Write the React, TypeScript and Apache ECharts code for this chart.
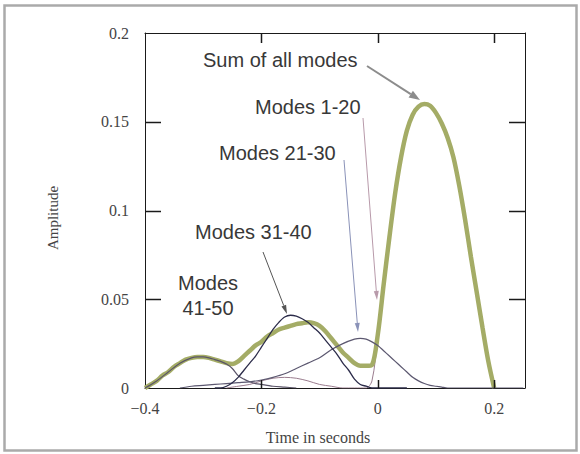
import { useEffect, useRef } from "react";
import * as echarts from "echarts";

// Time axis (seconds) and amplitudes of each mode group
const sumTimes = [
  -0.4, -0.39, -0.38, -0.37, -0.36, -0.35, -0.34, -0.33, -0.32, -0.31, -0.3, -0.29, -0.28, -0.27, -0.26,
  -0.25, -0.24, -0.23, -0.22, -0.21, -0.2, -0.19, -0.18, -0.17, -0.16, -0.15, -0.14, -0.13, -0.12, -0.11,
  -0.1, -0.09, -0.08, -0.07, -0.06, -0.05, -0.04, -0.03, -0.02, -0.01, 0.0, 0.01, 0.02, 0.03, 0.04, 0.05,
  0.06, 0.07, 0.08, 0.09, 0.1, 0.11, 0.12, 0.13, 0.14, 0.15, 0.16, 0.17, 0.18, 0.19, 0.2,
];
const sumAmps = [
  0.0, 0.002, 0.004, 0.007, 0.009, 0.012, 0.014, 0.016, 0.017, 0.0175, 0.0175, 0.017, 0.016, 0.015, 0.014,
  0.0135, 0.015, 0.018, 0.021, 0.024, 0.026, 0.029, 0.031, 0.033, 0.034, 0.035, 0.036, 0.0365, 0.037, 0.0365,
  0.035, 0.032, 0.028, 0.024, 0.02, 0.017, 0.014, 0.0125, 0.0125, 0.013, 0.03, 0.058, 0.085, 0.11, 0.13, 0.145,
  0.154, 0.1585, 0.16, 0.159, 0.155, 0.149, 0.141, 0.13, 0.114, 0.095, 0.074, 0.054, 0.034, 0.015, 0.0,
];

const m1to20Times = [
  -0.26, -0.24, -0.22, -0.2, -0.18, -0.16, -0.14, -0.12, -0.1, -0.08, -0.06, -0.04, -0.02, -0.01, 0.0, 0.01,
  0.02, 0.03, 0.04, 0.05, 0.06, 0.07, 0.08, 0.09, 0.1, 0.11, 0.12, 0.13, 0.14, 0.15, 0.16, 0.17, 0.18, 0.19, 0.2,
];
const m1to20Amps = [
  0.0, 0.001, 0.002, 0.004, 0.0055, 0.006, 0.0055, 0.004, 0.002, 0.001, 0.0, 0.0, 0.0, 0.004, 0.028, 0.057,
  0.084, 0.109, 0.129, 0.144, 0.153, 0.158, 0.1595, 0.1585, 0.1545, 0.1485, 0.1405, 0.1295, 0.1135, 0.0945,
  0.0735, 0.0535, 0.0335, 0.0145, 0.0,
];

const m21to30Times = [
  -0.34, -0.32, -0.3, -0.28, -0.26, -0.24, -0.22, -0.2, -0.18, -0.16, -0.14, -0.12, -0.1, -0.08, -0.06, -0.04,
  -0.03, -0.02, -0.01, 0.0, 0.01, 0.02, 0.03, 0.04, 0.05, 0.06, 0.07, 0.08, 0.09, 0.1, 0.11, 0.12, 0.15, 0.2,
  0.25,
];
const m21to30Amps = [
  0.0, 0.001, 0.0015, 0.002, 0.0025, 0.003, 0.0035, 0.0045, 0.006, 0.008, 0.011, 0.014, 0.017, 0.0215, 0.025,
  0.0275, 0.028, 0.0275, 0.026, 0.024, 0.021, 0.018, 0.015, 0.012, 0.009, 0.006, 0.004, 0.0025, 0.0015, 0.001,
  0.0005, 0.0, 0.0, 0.0, 0.0,
];

const m31to40Times = [
  -0.28, -0.27, -0.26, -0.25, -0.24, -0.23, -0.22, -0.21, -0.2, -0.19, -0.18, -0.17, -0.16, -0.15, -0.14,
  -0.13, -0.12, -0.11, -0.1, -0.09, -0.08, -0.07, -0.06, -0.05, -0.04, -0.03, -0.02, -0.01, 0.0, 0.05,
];
const m31to40Amps = [
  0.0, 0.0, 0.001, 0.003, 0.006, 0.01, 0.014, 0.018, 0.023, 0.028, 0.033, 0.037, 0.04, 0.041, 0.0405, 0.039,
  0.037, 0.034, 0.031, 0.027, 0.023, 0.019, 0.014, 0.01, 0.005, 0.002, 0.001, 0.0, 0.0, 0.0,
];

const m41to50Times = [
  -0.4, -0.38, -0.36, -0.34, -0.32, -0.31, -0.3, -0.29, -0.28, -0.27, -0.26, -0.25, -0.24, -0.23, -0.22,
  -0.21, -0.2, -0.19, -0.18, -0.16, -0.14,
];
const m41to50Amps = [
  0.0, 0.004, 0.009, 0.014, 0.017, 0.0175, 0.0175, 0.017, 0.016, 0.015, 0.0135, 0.011, 0.007, 0.005, 0.0035,
  0.0025, 0.002, 0.0015, 0.001, 0.0005, 0.0,
];

const xTickLabels = [-0.4, -0.2, 0, 0.2];
const xTickMarks = [-0.2, 0, 0.2];
const yTickMarks = [0.05, 0.1, 0.15];

const X_MIN = -0.4;
const X_MAX = 0.253;
const Y_MIN = 0;
const Y_MAX = 0.2;

const pairs = (ts: number[], vs: number[]) => ts.map((t, i) => [t, vs[i]]);

const SANS = "'Liberation Sans', Arial, sans-serif";
const SERIF = "'Liberation Serif', 'Times New Roman', serif";
const INK = "#1a1a1a";

const GRID = { left: 145, top: 33, width: 380, height: 355 };

function arrow(
  x1: number, y1: number, x2: number, y2: number,
  color: string, width: number, headLen: number, headW: number
) {
  const ang = Math.atan2(y2 - y1, x2 - x1);
  const bx = x2 - headLen * Math.cos(ang);
  const by = y2 - headLen * Math.sin(ang);
  const px = -Math.sin(ang) * headW / 2;
  const py = Math.cos(ang) * headW / 2;
  return {
    type: "group",
    children: [
      { type: "line", shape: { x1, y1, x2: bx, y2: by }, style: { stroke: color, lineWidth: width } },
      {
        type: "polygon",
        shape: { points: [[x2, y2], [bx + px, by + py], [bx - px, by - py]] },
        style: { fill: color },
      },
    ],
  };
}

function label(text: string, x: number, y: number, align = "left") {
  return {
    type: "text",
    x,
    y,
    style: {
      text,
      font: `20px ${SANS}`,
      fill: "#383838",
      textAlign: align,
      textVerticalAlign: "middle",
    },
  };
}

// Inward tick marks on all four sides of the plot frame, drawn as thin bars
function frameTicks() {
  const top = GRID.top;
  const bottom = GRID.top + GRID.height;
  const left = GRID.left;
  const right = GRID.left + GRID.width;
  const bars: any[] = [];
  xTickMarks.forEach((v) => {
    const x = Math.round(left + ((v - X_MIN) / (X_MAX - X_MIN)) * GRID.width);
    bars.push({ x: x - 0.25, y: bottom - 8, width: 1.5, height: 8 });
    bars.push({ x: x - 0.25, y: top, width: 1.5, height: 10 });
  });
  yTickMarks.forEach((v) => {
    const y = Math.round(bottom - ((v - Y_MIN) / (Y_MAX - Y_MIN)) * GRID.height);
    bars.push({ x: left, y: y - 0.25, width: 16, height: 1.5 });
    bars.push({ x: right - 16, y: y - 0.25, width: 16, height: 1.5 });
  });
  return bars.map((shape) => ({
    type: "rect",
    z: 100,
    shape,
    style: { fill: INK },
  }));
}

export default function App() {
  const ref = useRef<HTMLDivElement>(null);

  useEffect(() => {
    if (!ref.current) return;
    const chart = echarts.init(ref.current, null, { renderer: "svg" });
    const axisLine = { show: true, onZero: false, lineStyle: { color: INK, width: 1 } };
    const tickLabel = { fontFamily: SERIF, fontSize: 16, color: "#444" };
    const noTick = { show: false };

    chart.setOption({
      animation: false,
      backgroundColor: "#ffffff",
      grid: GRID,
      xAxis: [
        {
          type: "value",
          min: X_MIN,
          max: X_MAX,
          interval: 0.2,
          position: "bottom",
          axisLine,
          splitLine: { show: false },
          axisTick: noTick,
          axisLabel: {
            ...tickLabel,
            margin: 12,
            customValues: xTickLabels,
            formatter: (v: number) => (v < 0 ? "\u2212" : "") + Math.abs(v),
          },
        },
        {
          type: "value",
          min: X_MIN,
          max: X_MAX,
          interval: 0.2,
          position: "top",
          axisLine,
          splitLine: { show: false },
          axisTick: noTick,
          axisLabel: { show: false },
        },
      ],
      yAxis: [
        {
          type: "value",
          min: Y_MIN,
          max: Y_MAX,
          interval: 0.05,
          position: "left",
          axisLine,
          splitLine: { show: false },
          axisTick: noTick,
          axisLabel: { ...tickLabel, margin: 16 },
        },
        {
          type: "value",
          min: Y_MIN,
          max: Y_MAX,
          interval: 0.05,
          position: "right",
          axisLine,
          splitLine: { show: false },
          axisTick: noTick,
          axisLabel: { show: false },
        },
      ],
      series: [
        {
          name: "Modes 1-20",
          type: "line",
          data: pairs(m1to20Times, m1to20Amps),
          smooth: 0.3,
          showSymbol: false,
          z: 1,
          lineStyle: { color: "#9a7c8e", width: 1 },
        },
        {
          name: "Sum of all modes",
          type: "line",
          data: pairs(sumTimes, sumAmps),
          smooth: 0.3,
          showSymbol: false,
          z: 2,
          lineStyle: { color: "#a4ac66", width: 4.5 },
        },
        {
          name: "Modes 41-50",
          type: "line",
          data: pairs(m41to50Times, m41to50Amps),
          smooth: 0.3,
          showSymbol: false,
          z: 3,
          lineStyle: { color: "#5a5468", width: 1.2 },
        },
        {
          name: "Modes 21-30",
          type: "line",
          data: pairs(m21to30Times, m21to30Amps),
          smooth: 0.3,
          showSymbol: false,
          z: 3,
          lineStyle: { color: "#5c5870", width: 1.2 },
        },
        {
          name: "Modes 31-40",
          type: "line",
          data: pairs(m31to40Times, m31to40Amps),
          smooth: 0.3,
          showSymbol: false,
          z: 4,
          lineStyle: { color: "#2c2c4a", width: 1.3 },
        },
      ],
      graphic: [
        {
          type: "rect",
          shape: { x: 4.5, y: 5.5, width: 572, height: 445 },
          style: { fill: "none", stroke: "#aaaaaa", lineWidth: 2.5 },
          z: -1,
        },
        {
          type: "text",
          x: 53,
          y: 218,
          rotation: Math.PI / 2,
          style: {
            text: "Amplitude",
            font: `15px ${SERIF}`,
            fill: "#444",
            textAlign: "center",
            textVerticalAlign: "middle",
          },
        },
        {
          type: "text",
          x: 318,
          y: 437,
          style: {
            text: "Time in seconds",
            font: `16px ${SERIF}`,
            fill: "#444",
            textAlign: "center",
            textVerticalAlign: "middle",
          },
        },
        label("Sum of all modes", 203, 60),
        label("Modes 1-20", 255, 107),
        label("Modes 21-30", 219, 153),
        label("Modes 31-40", 195, 232),
        label("Modes", 208, 283, "center"),
        label("41-50", 208, 308, "center"),
        arrow(367, 66, 420, 100, "#8c8c8c", 2, 11, 8),
        arrow(363, 118, 377, 300, "#b89aaa", 1, 9, 5),
        arrow(344, 160, 358, 332, "#8a92b8", 1, 9, 5),
        arrow(263, 252, 287, 314, "#555555", 1, 9, 5),
        ...frameTicks(),
      ],
    });

    return () => chart.dispose();
  }, []);

  return (
    <div
      ref={ref}
      style={{ position: "fixed", left: 0, top: 0, width: 580, height: 454 }}
    />
  );
}
